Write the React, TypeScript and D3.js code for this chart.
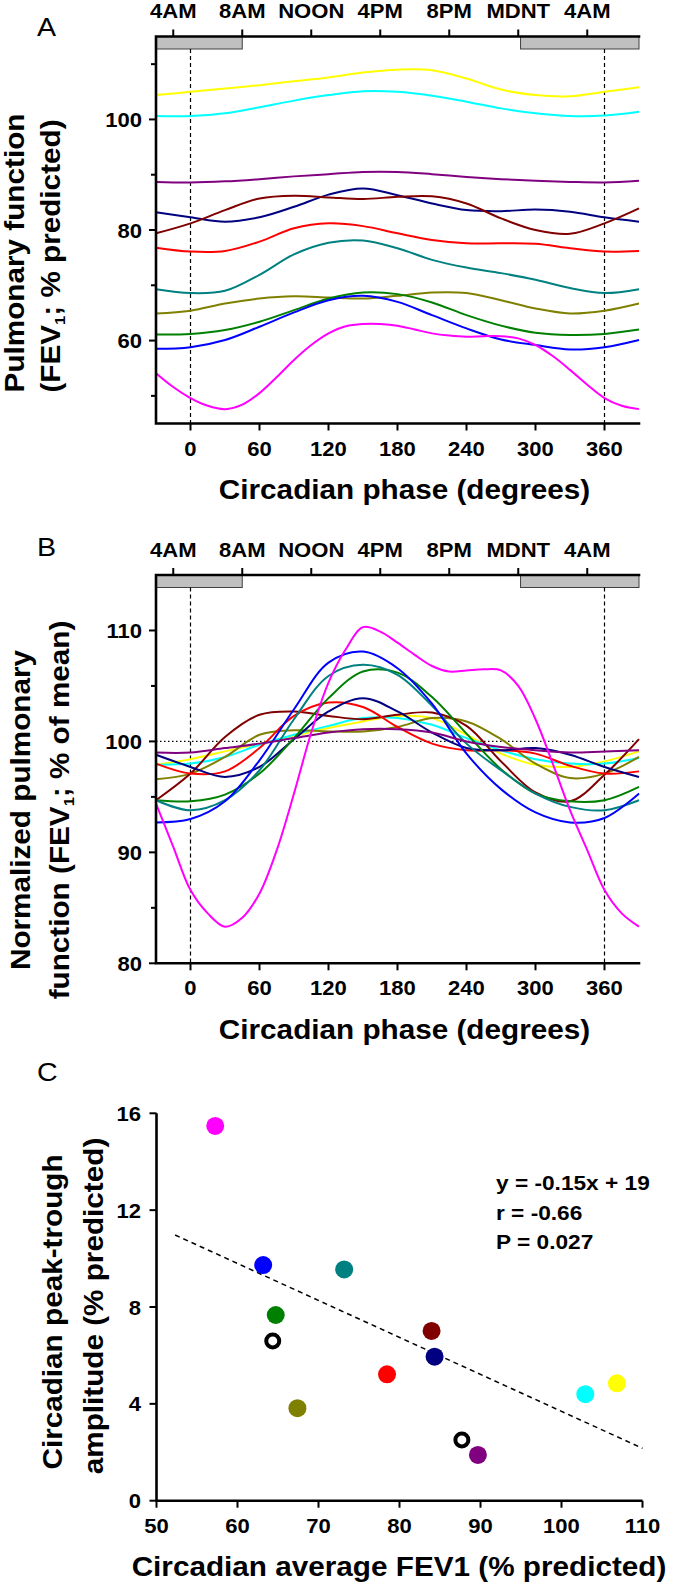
import React from 'react';
import * as d3 from 'd3';

const W = 677;
const H = 1587;
const FONT = '"Liberation Sans", Arial, Helvetica, sans-serif';
const SX = 1.05; // the figure's lettering is a little wider than plain Arial

// phase grid (degrees) the curves were read at
const PHASE = [-30, 0, 30, 60, 90, 120, 150, 180, 210, 240, 270, 300, 330, 360, 390];
const PHASE_FINE = [
  -30, -15, 0, 15, 30, 45, 60, 75, 90, 105, 120, 135, 150, 165, 180, 195, 210, 225, 240, 255,
  270, 285, 300, 315, 330, 345, 360, 375, 390,
];

const CLOCK_DEG = [-15, 45, 105, 165, 225, 285, 345];
const CLOCK_LABELS = ['4AM', '8AM', 'NOON', '4PM', '8PM', 'MDNT', '4AM'];
const NIGHT = [
  [-30, 45],
  [287, 390],
];
const PHASE_TICKS = [0, 60, 120, 180, 240, 300, 360];

const C_YELLOW = '#FFFF00';
const C_CYAN = '#00FFFF';
const C_PURPLE = '#800080';
const C_NAVY = '#000080';
const C_DARKRED = '#800000';
const C_RED = '#FF0000';
const C_TEAL = '#008080';
const C_OLIVE = '#808000';
const C_GREEN = '#008000';
const C_BLUE = '#0000FF';
const C_MAGENTA = '#FF00FF';

// A: FEV1 (% predicted)
const aYellow = [104.4, 105.0, 105.6, 106.2, 106.9, 107.6, 108.5, 109.0, 108.9, 107.4, 105.4, 104.4, 104.2, 105.0, 105.8];
const aCyan = [100.6, 100.6, 101.1, 102.2, 103.4, 104.4, 105.1, 105.0, 104.3, 103.2, 102.0, 101.1, 100.6, 100.7, 101.4];
const aPurple = [88.7, 88.6, 88.8, 89.2, 89.7, 90.1, 90.5, 90.5, 90.1, 89.6, 89.2, 88.9, 88.7, 88.6, 88.9];
const aNavy = [83.2, 82.3, 81.5, 82.3, 84.2, 86.4, 87.5, 86.3, 84.8, 83.6, 83.4, 83.7, 83.3, 82.3, 81.5];
const aDarkRed = [79.4, 81.2, 83.6, 85.7, 86.2, 85.9, 85.6, 86.0, 86.1, 84.8, 82.1, 80.0, 79.3, 81.2, 83.9];
const aRed = [76.8, 76.1, 76.2, 77.9, 80.3, 81.2, 80.7, 79.4, 78.2, 77.6, 77.6, 77.5, 76.7, 76.1, 76.2];
const aTeal = [69.3, 68.6, 69.0, 71.9, 75.6, 77.7, 78.1, 76.7, 74.6, 73.2, 72.2, 71.0, 69.5, 68.6, 69.3];
const aOlive = [64.9, 65.4, 66.7, 67.6, 68.0, 67.8, 67.6, 68.1, 68.7, 68.6, 67.3, 65.8, 64.9, 65.4, 66.7];
const aGreen = [61.1, 61.2, 61.9, 63.4, 65.5, 67.6, 68.7, 68.4, 66.9, 64.6, 62.7, 61.4, 61.0, 61.2, 62.0];
const aBlue = [58.5, 58.8, 60.1, 62.5, 65.1, 67.3, 68.1, 67.0, 64.6, 62.2, 60.2, 59.2, 58.4, 58.8, 60.1];
const aMagenta = [
  54.1, 51.6, 49.6, 48.2, 47.6, 48.4, 50.5, 53.4, 56.5, 59.2, 61.3, 62.6, 63.0, 63.0, 62.7, 62.0,
  61.3, 60.9, 60.7, 60.8, 60.8, 60.4, 59.2, 57.2, 54.7, 52.0, 49.6, 48.2, 47.6,
];

// B: FEV1 (% of mean)
const bYellow = [97.9, 98.4, 99.1, 99.8, 100.5, 101.2, 101.8, 102.3, 102.1, 100.6, 98.9, 97.9, 97.7, 98.2, 99.1];
const bCyan = [97.9, 98.0, 98.6, 99.7, 100.6, 101.4, 102.1, 102.1, 101.5, 100.3, 99.2, 98.4, 98.0, 98.0, 98.5];
const bPurple = [99.0, 99.0, 99.4, 99.8, 100.3, 100.8, 101.1, 101.1, 100.8, 100.0, 99.5, 99.2, 99.0, 99.1, 99.2];
const bNavy = [98.8, 97.7, 96.8, 97.7, 100.2, 102.7, 103.9, 102.7, 100.8, 99.4, 99.2, 99.4, 98.8, 97.7, 96.8];
const bDarkRed = [94.7, 97.1, 100.4, 102.4, 102.7, 102.3, 102.0, 102.4, 102.6, 101.4, 98.2, 95.4, 94.6, 97.0, 100.2];
const bRed = [98.0, 97.1, 97.3, 99.4, 102.3, 103.5, 103.1, 101.3, 99.8, 99.2, 99.2, 98.9, 97.8, 97.1, 97.3];
const bTeal = [94.7, 93.8, 94.7, 97.4, 102.0, 105.9, 106.9, 106.0, 103.2, 99.8, 97.4, 95.3, 94.1, 93.8, 94.7];
const bOlive = [96.6, 97.1, 98.6, 100.6, 101.0, 100.9, 100.9, 101.3, 102.1, 101.8, 100.2, 98.0, 96.7, 97.1, 98.6];
const bGreen = [94.7, 94.6, 95.2, 97.1, 100.3, 103.9, 106.3, 106.2, 104.0, 100.7, 97.5, 95.3, 94.6, 94.7, 95.9];
const bBlue = [92.7, 93.0, 94.6, 98.3, 102.9, 107.1, 108.1, 106.6, 103.4, 98.9, 95.7, 93.6, 92.7, 93.1, 95.3];
const bMagenta = [
  94.4, 90.5, 86.6, 84.5, 83.3, 84.1, 86.3, 90.2, 95.3, 100.8, 105.3, 108.3, 110.3, 109.9, 108.9,
  107.8, 106.8, 106.3, 106.4, 106.5, 106.4, 105.0, 102.0, 98.0, 93.8, 90.2, 86.6, 84.5, 83.3,
];

// C: circadian average vs peak-trough amplitude
const cAvg = [57.25, 63.17, 73.17, 64.72, 67.4, 78.46, 83.96, 84.33, 89.68, 102.94, 106.84];
const cAmp = [15.48, 9.73, 9.55, 7.67, 3.82, 5.22, 7.01, 5.95, 1.89, 4.4, 4.85];
const cColors = [C_MAGENTA, C_BLUE, C_TEAL, C_GREEN, C_OLIVE, C_RED, C_DARKRED, C_NAVY, C_PURPLE, C_CYAN, C_YELLOW];
const cOpenAvg = [64.35, 87.7];
const cOpenAmp = [6.6, 2.51];
const C_X_TICKS = [50, 60, 70, 80, 90, 100, 110];
const C_Y_TICKS = [0, 4, 8, 12, 16];
const REG_SLOPE = -0.1527;
const REG_INTERCEPT = 18.96;
const REG_X = [52.3, 110];
const STATS = ['y = -0.15x + 19', 'r = -0.66', 'P = 0.027'];

const seriesA = [
  { color: C_YELLOW, phase: PHASE, v: aYellow },
  { color: C_CYAN, phase: PHASE, v: aCyan },
  { color: C_PURPLE, phase: PHASE, v: aPurple },
  { color: C_NAVY, phase: PHASE, v: aNavy },
  { color: C_DARKRED, phase: PHASE, v: aDarkRed },
  { color: C_RED, phase: PHASE, v: aRed },
  { color: C_TEAL, phase: PHASE, v: aTeal },
  { color: C_OLIVE, phase: PHASE, v: aOlive },
  { color: C_GREEN, phase: PHASE, v: aGreen },
  { color: C_BLUE, phase: PHASE, v: aBlue },
  { color: C_MAGENTA, phase: PHASE_FINE, v: aMagenta },
];
const seriesB = [
  { color: C_YELLOW, phase: PHASE, v: bYellow },
  { color: C_CYAN, phase: PHASE, v: bCyan },
  { color: C_OLIVE, phase: PHASE, v: bOlive },
  { color: C_DARKRED, phase: PHASE, v: bDarkRed },
  { color: C_RED, phase: PHASE, v: bRed },
  { color: C_NAVY, phase: PHASE, v: bNavy },
  { color: C_GREEN, phase: PHASE, v: bGreen },
  { color: C_TEAL, phase: PHASE, v: bTeal },
  { color: C_BLUE, phase: PHASE, v: bBlue },
  { color: C_PURPLE, phase: PHASE, v: bPurple },
  { color: C_MAGENTA, phase: PHASE_FINE, v: bMagenta },
];

function Txt({ x, y, children, anchor = 'middle', size = 21, weight = 'bold', rotate = 0, sx = SX }: any) {
  return (
    <text
      transform={`translate(${x},${y}) rotate(${rotate}) scale(${sx},1)`}
      textAnchor={anchor}
      fontFamily={FONT}
      fontWeight={weight}
      fontSize={size}
      fill="#000"
    >
      {children}
    </text>
  );
}

const X0 = 156;
const X1 = 639;

function PhasePanel({ top, bottom, yDomain, major, minor, series, letter, letterY, title, titleX, ref100 }: any) {
  const x = d3.scaleLinear().domain([-30, 390]).range([X0, X1]);
  const y = d3.scaleLinear().domain(yDomain).range([bottom, top]);
  const boxH = 12.5;
  const mk = (s: any) =>
    d3
      .line<number>()
      .x((_, i) => x(s.phase[i]))
      .y((d) => y(d))
      .curve(d3.curveCatmullRom.alpha(0.5))(s.v) as string;

  return (
    <g>
      <Txt x={37} y={letterY} anchor="start" size={26} weight="normal" sx={1.1}>
        {letter}
      </Txt>
      {CLOCK_DEG.map((d, i) => (
        <g key={'c' + i}>
          <line x1={x(d)} x2={x(d)} y1={top - 7} y2={top} stroke="#000" strokeWidth={2} />
          <Txt x={x(d)} y={top - 18.5}>
            {CLOCK_LABELS[i]}
          </Txt>
        </g>
      ))}
      {NIGHT.map((n, i) => (
        <rect
          key={'n' + i}
          x={x(n[0])}
          y={top}
          width={x(n[1]) - x(n[0])}
          height={boxH}
          fill="#C0C0C0"
          stroke="#404040"
          strokeWidth={1}
        />
      ))}
      {[0, 360].map((d) => (
        <line
          key={'d' + d}
          x1={x(d)}
          x2={x(d)}
          y1={top + boxH}
          y2={bottom}
          stroke="#000"
          strokeWidth={1.2}
          strokeDasharray="4,3"
        />
      ))}
      {ref100 && (
        <line x1={X0} x2={X1} y1={y(100)} y2={y(100)} stroke="#000" strokeWidth={1.4} strokeDasharray="1.5,2.5" />
      )}
      {series.map((s: any, i: number) => (
        <path key={'s' + i} d={mk(s)} fill="none" stroke={s.color} strokeWidth={2} />
      ))}
      <path
        d={`M${X1},${top} H${X0} V${bottom} H${X1}`}
        fill="none"
        stroke="#000"
        strokeWidth={2.6}
        strokeLinecap="square"
      />
      {major.map((t: number) => (
        <g key={'m' + t}>
          <line x1={X0 - 7} x2={X0} y1={y(t)} y2={y(t)} stroke="#000" strokeWidth={2} />
          <Txt x={142} y={y(t) + 7.5} anchor="end">
            {t}
          </Txt>
        </g>
      ))}
      {minor.map((t: number) => (
        <line key={'n' + t} x1={X0 - 5} x2={X0} y1={y(t)} y2={y(t)} stroke="#000" strokeWidth={2} />
      ))}
      {PHASE_TICKS.map((d) => (
        <g key={'p' + d}>
          <line x1={x(d)} x2={x(d)} y1={bottom} y2={bottom + 7} stroke="#000" strokeWidth={2} />
          <Txt x={x(d)} y={bottom + 32}>
            {d}
          </Txt>
        </g>
      ))}
      <Txt x={(X0 + X1) / 2 + 7} y={bottom + 75.5} size={27} sx={1.1}>
        Circadian phase (degrees)
      </Txt>
      {title.map((t: any, i: number) => (
        <Txt key={'t' + i} x={titleX[i]} y={t.cy} rotate={-90} size={27} sx={1.1}>
          {t.text}
        </Txt>
      ))}
    </g>
  );
}

function Fev({ pre, post }: any) {
  return (
    <>
      <tspan>{pre}</tspan>
      <tspan fontSize={15} dy={5}>
        1
      </tspan>
      <tspan dy={-5}>{post}</tspan>
    </>
  );
}

function Scatter() {
  const x = d3.scaleLinear().domain([50, 110]).range([156.5, 642.5]);
  const y = d3.scaleLinear().domain([0, 16]).range([1500.7, 1113.3]);
  const reg = d3
    .line<number>()
    .x((d) => x(d))
    .y((d) => y(REG_SLOPE * d + REG_INTERCEPT))(REG_X) as string;
  return (
    <g>
      <Txt x={37} y={1081} anchor="start" size={26} weight="normal" sx={1.1}>
        C
      </Txt>
      <path d={reg} stroke="#000" strokeWidth={1.5} strokeDasharray="5,4" fill="none" />
      {cAvg.map((v, i) => (
        <circle key={'p' + i} cx={x(v)} cy={y(cAmp[i])} r={9} fill={cColors[i]} />
      ))}
      {cOpenAvg.map((v, i) => (
        <circle key={'o' + i} cx={x(v)} cy={y(cOpenAmp[i])} r={6.5} fill="#fff" stroke="#000" strokeWidth={4} />
      ))}
      <path d={`M${x(50)},${y(16)} V${y(0)} H${x(110)}`} fill="none" stroke="#000" strokeWidth={2.6} />
      {C_Y_TICKS.map((t) => (
        <g key={'y' + t}>
          <line x1={x(50) - 7} x2={x(50)} y1={y(t)} y2={y(t)} stroke="#000" strokeWidth={2} />
          <Txt x={141} y={y(t) + 7.5} anchor="end">
            {t}
          </Txt>
        </g>
      ))}
      {C_X_TICKS.map((t) => (
        <g key={'x' + t}>
          <line x1={x(t)} x2={x(t)} y1={y(0)} y2={y(0) + 7} stroke="#000" strokeWidth={2} />
          <Txt x={x(t)} y={1533}>
            {t}
          </Txt>
        </g>
      ))}
      {STATS.map((s, i) => (
        <Txt key={'s' + i} x={496} y={1190 + i * 29.5} anchor="start" size={21} sx={1.08}>
          {s}
        </Txt>
      ))}
      <Txt x={399} y={1576} size={27} sx={1.1}>
        Circadian average FEV1 (% predicted)
      </Txt>
      <Txt x={62} y={1312} rotate={-90} size={27} sx={1.1}>
        Circadian peak-trough
      </Txt>
      <Txt x={103} y={1306} rotate={-90} size={27} sx={1.1}>
        amplitude (% predicted)
      </Txt>
    </g>
  );
}

export default function App() {
  return (
    <svg
      width={W}
      height={H}
      viewBox={`0 0 ${W} ${H}`}
      style={{ position: 'absolute', left: 0, top: 0, background: '#fff', display: 'block' }}
    >
      <rect width={W} height={H} fill="#fff" />
      <PhasePanel
        top={36.5}
        bottom={423.5}
        yDomain={[45, 115]}
        major={[60, 80, 100]}
        minor={[50, 70, 90, 110]}
        series={seriesA}
        letter="A"
        letterY={36}
        titleX={[23.5, 60]}
        title={[
          { cy: 253, text: 'Pulmonary function' },
          { cy: 256, text: <Fev pre="(FEV" post="; % predicted)" /> },
        ]}
      />
      <PhasePanel
        top={575}
        bottom={963.3}
        yDomain={[80, 115]}
        major={[80, 90, 100, 110]}
        minor={[85, 95, 105]}
        series={seriesB}
        letter="B"
        letterY={556}
        ref100
        titleX={[29.5, 69]}
        title={[
          { cy: 810, text: 'Normalized pulmonary' },
          { cy: 810, text: <Fev pre="function (FEV" post="; % of mean)" /> },
        ]}
      />
      <Scatter />
    </svg>
  );
}
